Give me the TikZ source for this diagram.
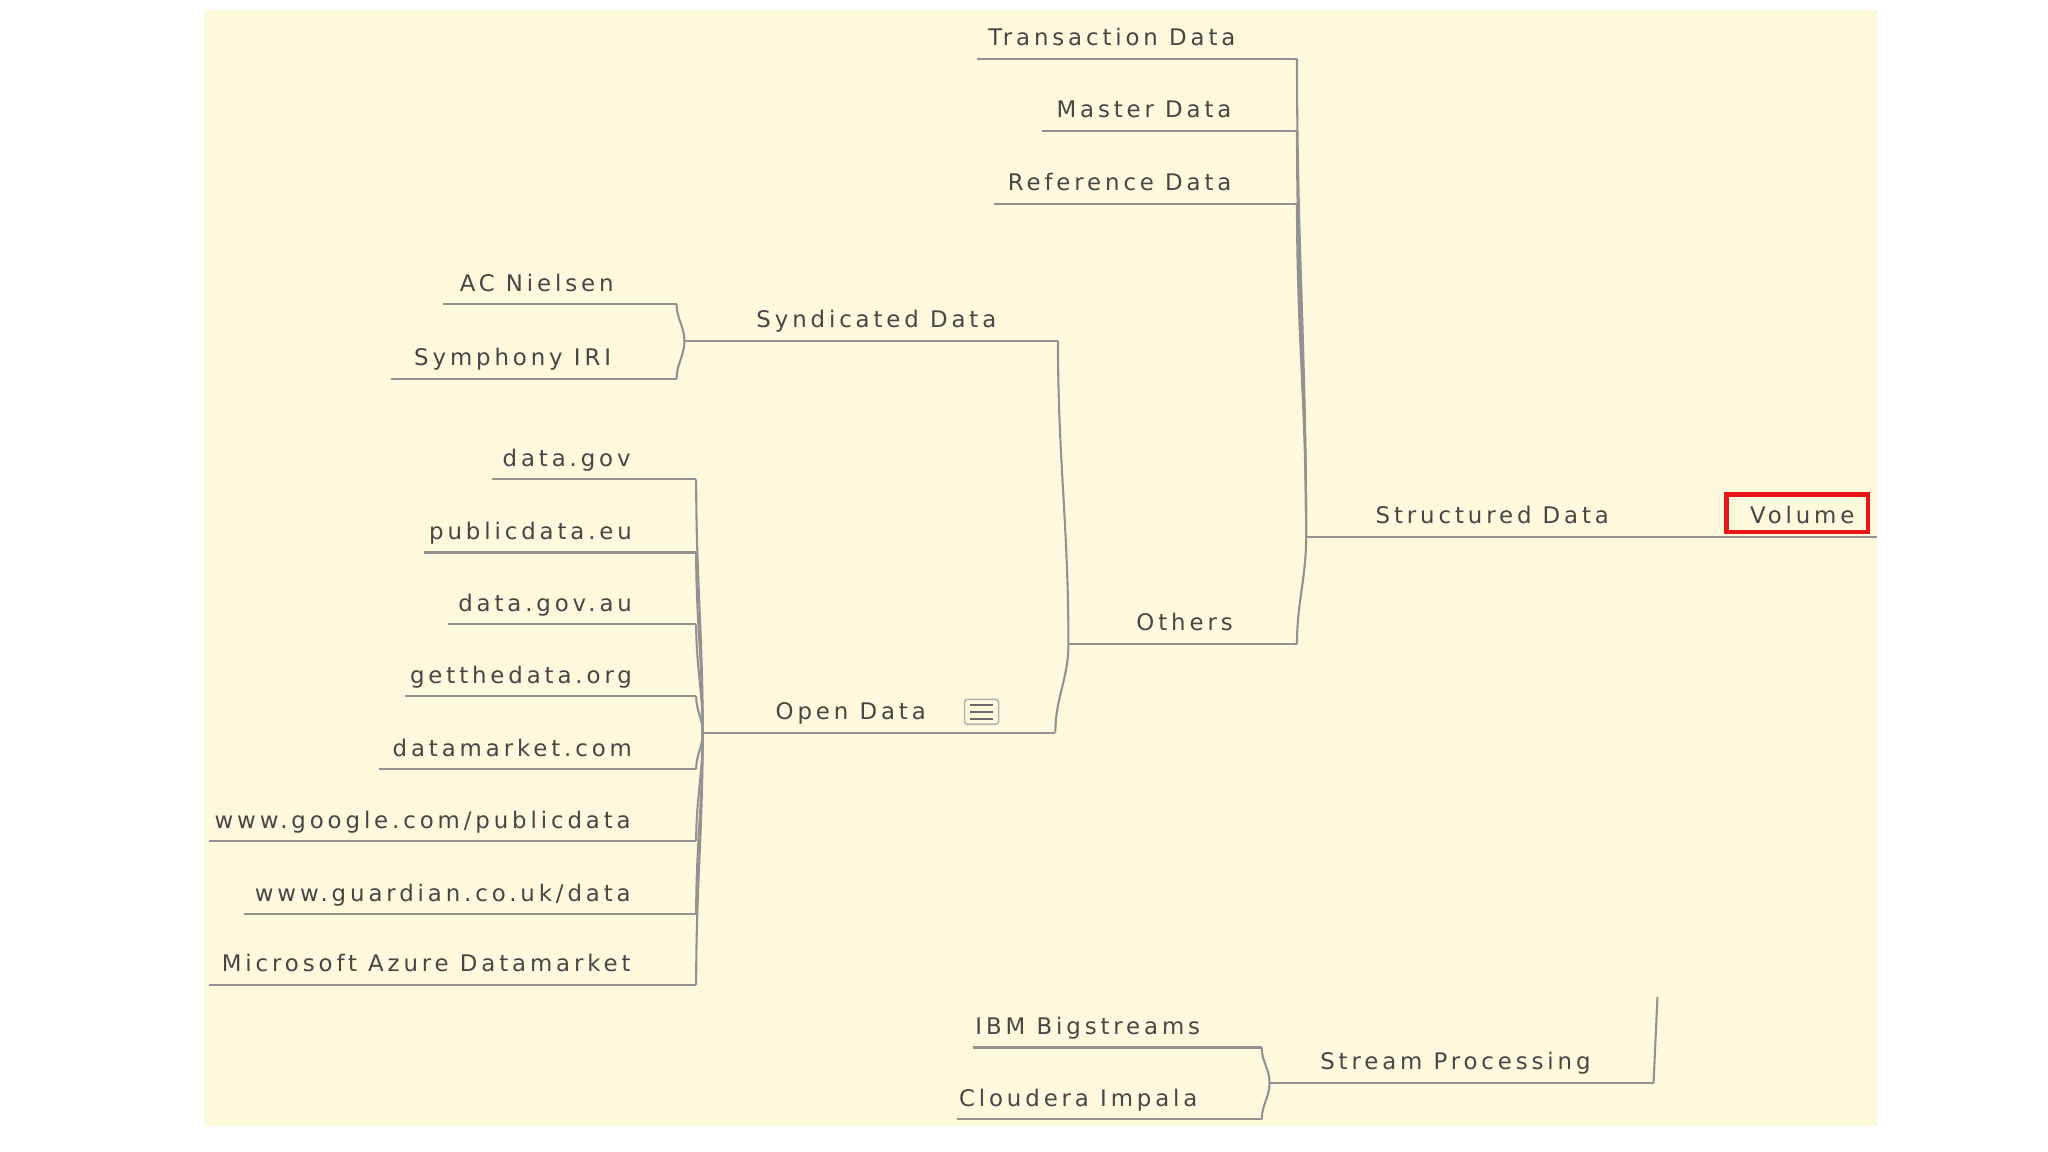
\documentclass[tikz,border=0pt]{standalone}
\usepackage{fontspec}
\setmainfont{DejaVu Sans}[LetterSpace=17]
\definecolor{bgc}{RGB}{253,249,221}
\definecolor{txt}{RGB}{74,68,68}
\definecolor{lin}{RGB}{146,146,146}
\definecolor{volred}{RGB}{232,20,22}
\newcommand\mytopic[6]{%
  \node[topic] (#1) at (#2,#3-10) {#6};
  \coordinate (#1-L) at (#4,#3);
  \coordinate (#1-R) at (#5,#3);
  \draw[uline] (#1-L) -- (#1-R);}
\begin{document}
\begin{tikzpicture}[x=1pt,y=-1pt,
  topic/.style={anchor=base east, inner sep=0pt, text=txt, font=\fontsize{17.5}{19}\selectfont},
  uline/.style={draw=lin, line width=1.6pt},
  conn/.style={draw=lin, line width=1.6pt},
  iconbox/.style={draw=lin!70, line width=1.2pt, rounded corners=2pt, minimum width=26pt, minimum height=19pt, inner sep=0pt},
  iconline/.style={draw=txt!80, line width=1.6pt},
  volbox/.style={draw=volred, line width=3.5pt, minimum width=108.5pt, minimum height=28.5pt, inner sep=0pt}]
\useasboundingbox (0,0) rectangle (1568,882);
\fill[bgc] (156,8) rectangle (1437,862);

% level: details of Structured Data
\mytopic{trans}{946}{45}{748}{993}{Transaction Data}
\mytopic{master}{943}{100}{798}{993}{Master Data}
\mytopic{refd}{943}{156}{761}{993}{Reference Data}
\mytopic{others}{944}{493}{818}{993}{Others}
\mytopic{struct}{1232}{411}{1000}{1437}{Structured Data}

% Syndicated data
\mytopic{acn}{470}{233}{339}{518}{AC Nielsen}
\mytopic{sym}{468}{290}{299}{518}{Symphony IRI}
\mytopic{synd}{763}{261}{524}{810}{Syndicated Data}

% Open data
\mytopic{dgov}{483}{367}{377}{533}{data.gov}
\mytopic{pdeu}{484}{423}{325}{533}{publicdata.eu}
\mytopic{dgau}{484}{478}{343}{533}{data.gov.au}
\mytopic{gtd}{484}{533}{310}{533}{getthedata.org}
\mytopic{dmc}{484}{589}{290}{533}{datamarket.com}
\mytopic{goog}{483}{644}{160}{533}{www.google.com/publicdata}
\mytopic{guard}{483}{700}{187}{533}{www.guardian.co.uk/data}
\mytopic{azure}{483}{754}{160}{533}{Microsoft Azure Datamarket}
\mytopic{open}{709}{561}{538}{808}{Open Data}

% Stream processing
\mytopic{ibm}{919}{802}{745}{966}{IBM Bigstreams}
\mytopic{clou}{917}{857}{733}{966}{Cloudera Impala}
\mytopic{sp}{1218}{829}{972}{1266}{Stream Processing}
\coordinate (spEnd) at (1269,763);

% root
\node[volbox] (vol) at (1376,393) {};
\node[topic] (voltext) at (1420,401) {Volume};

% note icon on Open Data
\node[iconbox] (odicon) at (751.5,545) {};
\foreach \dy in {-5.5,0,5.5}
  \draw[iconline] ([shift={(-9,\dy)}]odicon.center) -- ([shift={(9,\dy)}]odicon.center);

% connectors
\foreach \c in {trans,master,refd}
  \draw[conn] (\c-R) to[out=-90,in=90] (struct-L);
\draw[conn] (others-R) to[out=90,in=-90] (struct-L);
\draw[conn] (synd-R) to[out=-90,in=90] (others-L);
\draw[conn] (open-R) to[out=90,in=-90] (others-L);
\draw[conn] (acn-R) to[out=-90,in=90] (synd-L);
\draw[conn] (sym-R) to[out=90,in=-90] (synd-L);
\foreach \c in {dgov,pdeu,dgau,gtd}
  \draw[conn] (\c-R) to[out=-90,in=90] (open-L);
\foreach \c in {dmc,goog,guard,azure}
  \draw[conn] (\c-R) to[out=90,in=-90] (open-L);
\draw[conn] (ibm-R) to[out=-90,in=90] (sp-L);
\draw[conn] (clou-R) to[out=90,in=-90] (sp-L);
\draw[conn] (sp-R) -- (spEnd);
\end{tikzpicture}
\end{document}
